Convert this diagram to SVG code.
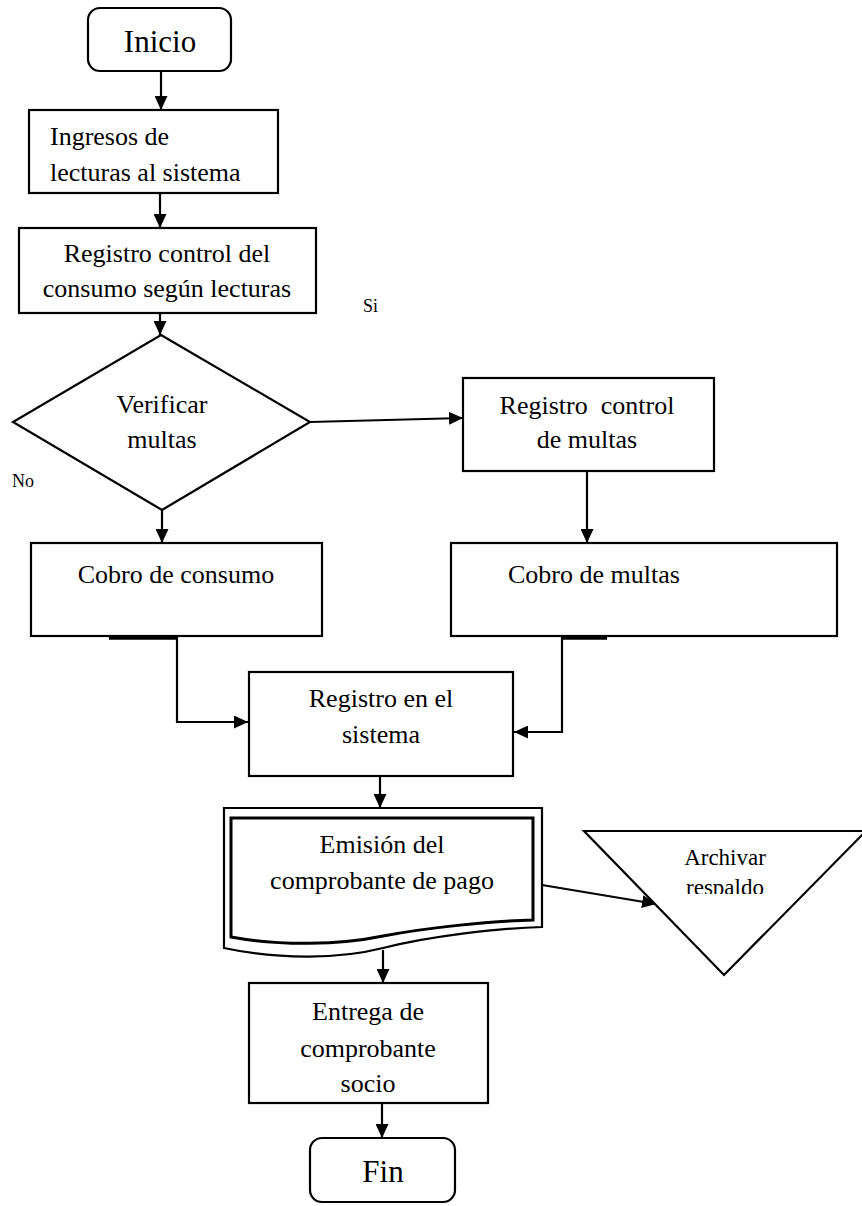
<svg xmlns="http://www.w3.org/2000/svg" width="862" height="1206" viewBox="0 0 862 1206">
<style>
  .box{fill:#fff;stroke:#000;stroke-width:2.2}
  .t{font-family:"Liberation Serif","Times New Roman",serif;font-size:26px;fill:#000}
  .c{text-anchor:middle}
  .s{font-size:18px}
  .big{font-size:31px}
  .ln{fill:none;stroke:#000;stroke-width:2.2}
  .thick{fill:none;stroke:#000;stroke-width:3.5}
</style>
<defs>
  <marker id="ah" markerUnits="userSpaceOnUse" viewBox="0 0 14 13" markerWidth="14" markerHeight="13" refX="14" refY="6.5" orient="auto">
    <path d="M0,0 L14,6.5 L0,13 Z" fill="#000"/>
  </marker>
  <clipPath id="clipR"><rect x="600" y="860" width="262" height="34"/></clipPath>
</defs>

<g id="connectors">
  <line class="ln" x1="161" y1="71" x2="161" y2="110" marker-end="url(#ah)"/>
  <line class="ln" x1="160" y1="193" x2="160" y2="228" marker-end="url(#ah)"/>
  <line class="ln" x1="160" y1="313" x2="160" y2="335" marker-end="url(#ah)"/>
  <line class="ln" x1="310" y1="422" x2="463" y2="418" marker-end="url(#ah)"/>
  <line class="ln" x1="162" y1="510" x2="162" y2="543" marker-end="url(#ah)"/>
  <line class="ln" x1="587" y1="471" x2="587" y2="543" marker-end="url(#ah)"/>
  <line class="thick" x1="109" y1="638" x2="178" y2="638"/>
  <polyline class="ln" points="177,638 177,722 248,722" marker-end="url(#ah)"/>
  <line class="thick" x1="561" y1="638" x2="607" y2="638"/>
  <polyline class="ln" points="562,638 562,732 514,732" marker-end="url(#ah)"/>
  <line class="ln" x1="380" y1="776" x2="380" y2="808" marker-end="url(#ah)"/>
  <line class="ln" x1="542" y1="885" x2="656" y2="904" marker-end="url(#ah)"/>
  <line class="ln" x1="383" y1="950" x2="383" y2="983" marker-end="url(#ah)"/>
  <line class="ln" x1="382" y1="1103" x2="382" y2="1138" marker-end="url(#ah)"/>
</g>

<g id="inicio">
  <rect class="box" x="88" y="8" width="143" height="63" rx="12"/>
  <text class="t c big" x="160" y="52">Inicio</text>
</g>

<g id="ingresos">
  <rect class="box" x="29" y="110" width="249" height="83"/>
  <text class="t" x="50" y="145">Ingresos de</text>
  <text class="t" x="50" y="181">lecturas al sistema</text>
</g>

<g id="registro-consumo">
  <rect class="box" x="19" y="228" width="297" height="85"/>
  <text class="t c" x="167" y="262">Registro control del</text>
  <text class="t c" x="167" y="297">consumo según lecturas</text>
</g>

<g id="label-si">
  <text class="t s" x="363" y="312">Si</text>
</g>

<g id="verificar">
  <polygon class="box" points="161,335 310,422 162,510 13,422"/>
  <text class="t c" x="162" y="413">Verificar</text>
  <text class="t c" x="162" y="448">multas</text>
</g>

<g id="label-no">
  <text class="t s" x="12" y="487">No</text>
</g>

<g id="registro-multas">
  <rect class="box" x="463" y="378" width="251" height="93"/>
  <text class="t c" x="587" y="414" xml:space="preserve" style="white-space:pre">Registro  control</text>
  <text class="t c" x="587" y="448">de multas</text>
</g>

<g id="cobro-consumo">
  <rect class="box" x="31" y="543" width="291" height="93"/>
  <text class="t c" x="176" y="583">Cobro de consumo</text>
</g>

<g id="cobro-multas">
  <rect class="box" x="451" y="543" width="386" height="93"/>
  <text class="t" x="508" y="583">Cobro de multas</text>
</g>

<g id="registro-sistema">
  <rect class="box" x="249" y="672" width="264" height="104"/>
  <text class="t c" x="381" y="707">Registro en el</text>
  <text class="t c" x="381" y="743">sistema</text>
</g>

<g id="emision">
  <path class="box" d="M224,808 H542 V927 C500,928 430,936 383,948 C340,959 280,960 224,948 Z"/>
  <path fill="none" stroke="#000" stroke-width="3" d="M231,818 H533 V920 C490,921 425,928 383,936 C340,945 280,946 231,937 Z"/>
  <text class="t c" x="382" y="853">Emisión del</text>
  <text class="t c" x="382" y="889">comprobante de pago</text>
</g>

<g id="archivar">
  <polygon class="box" points="584,831 866,831 724,975"/>
  <text class="t c" x="725" y="865" style="font-size:23px">Archivar</text>
  <text class="t c" x="725" y="895" style="font-size:23px" clip-path="url(#clipR)">respaldo</text>
</g>

<g id="entrega">
  <rect class="box" x="249" y="983" width="239" height="120"/>
  <text class="t c" x="368" y="1020">Entrega de</text>
  <text class="t c" x="368" y="1057">comprobante</text>
  <text class="t c" x="368" y="1092">socio</text>
</g>

<g id="fin">
  <rect class="box" x="310" y="1138" width="145" height="64" rx="12"/>
  <text class="t c big" x="383" y="1182">Fin</text>
</g>
</svg>
